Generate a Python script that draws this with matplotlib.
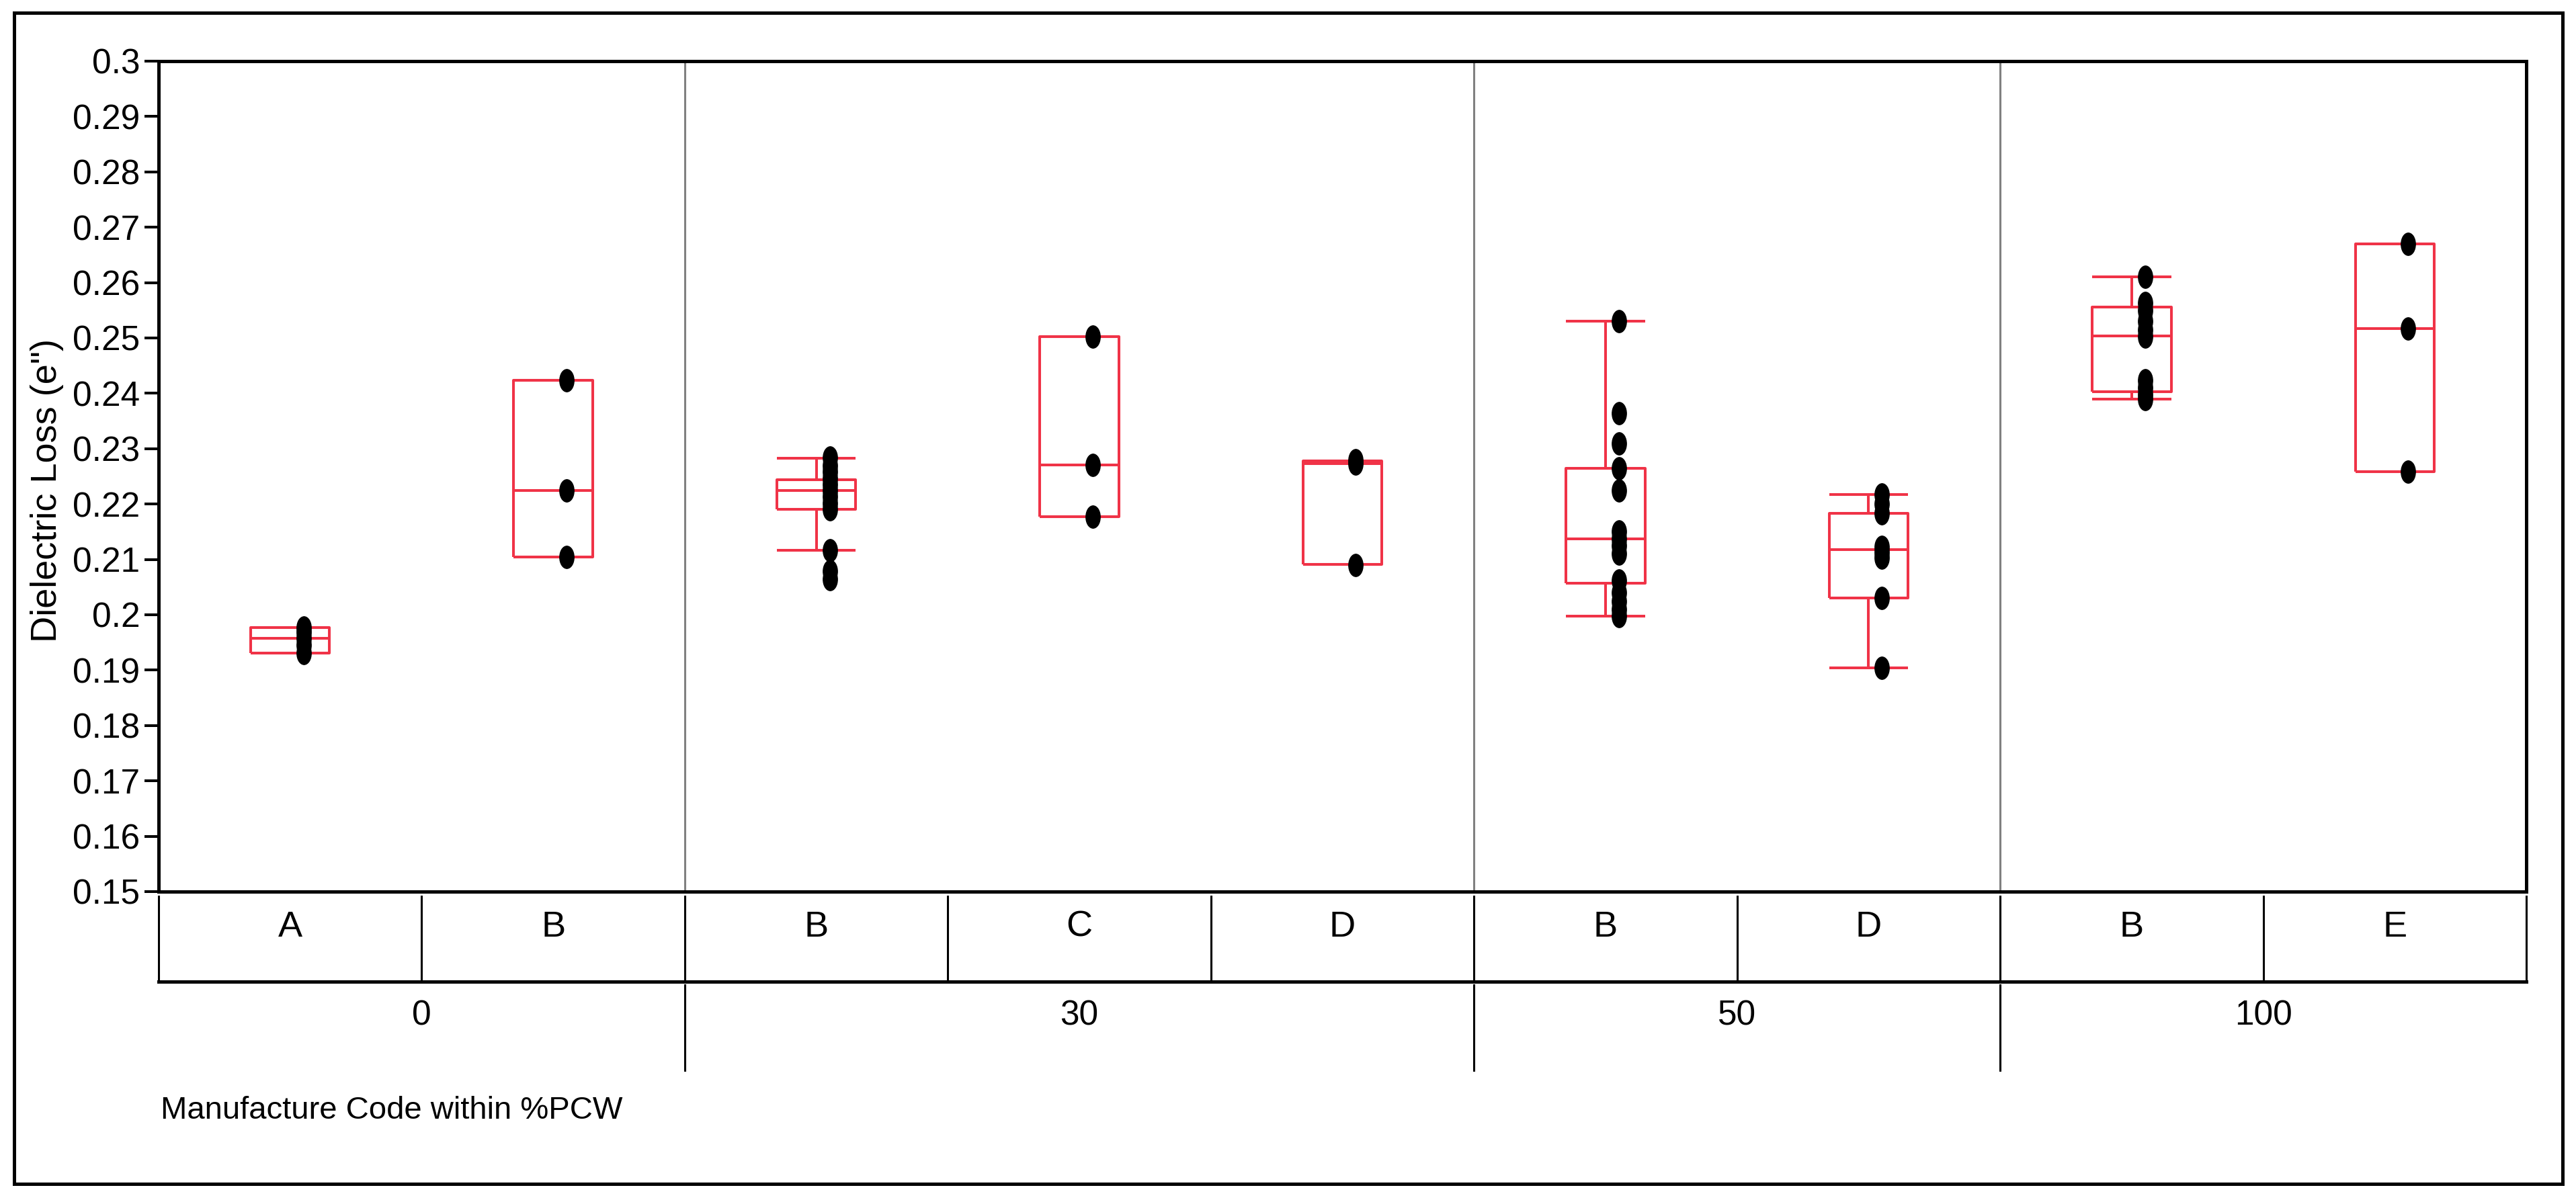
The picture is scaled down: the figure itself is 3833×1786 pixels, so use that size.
"""Box plot of dielectric loss by manufacturer code within %PCW."""

import matplotlib
matplotlib.use("Agg")
import matplotlib.pyplot as plt
from matplotlib import font_manager, transforms
from matplotlib.lines import Line2D
from matplotlib.patches import Rectangle
from matplotlib.path import Path
from matplotlib.markers import MarkerStyle

# fonts: a narrow Arial-like face if there is one
installed = {f.name for f in font_manager.fontManager.ttflist}
NARROW = "Liberation Sans Narrow" if "Liberation Sans Narrow" in installed else "Liberation Sans"
plt.rcParams["font.family"] = [NARROW, "DejaVu Sans"]

# data
codes = ["A", "B", "B", "C", "D", "B", "D", "B", "E"]
groups = ["0", "30", "50", "100"]
group_spans = [(0, 2), (2, 5), (5, 7), (7, 9)]

q1 = [0.1931, 0.2104, 0.2191, 0.2177, 0.2091, 0.2057, 0.2030, 0.2403, 0.2258]
med = [0.1957, 0.2224, 0.2224, 0.2271, 0.2273, 0.2137, 0.2118, 0.2504, 0.2517]
q3 = [0.1977, 0.2424, 0.2244, 0.2503, 0.2278, 0.2264, 0.2183, 0.2556, 0.2670]
whis_lo = [0.1931, 0.2104, 0.2117, 0.2177, 0.2091, 0.1997, 0.1904, 0.2390, 0.2258]
whis_hi = [0.1977, 0.2424, 0.2283, 0.2503, 0.2278, 0.2530, 0.2217, 0.2610, 0.2670]

pts_A0 = [0.1931, 0.1945, 0.1957, 0.1968, 0.1977]
pts_B0 = [0.2104, 0.2224, 0.2424]
pts_B30 = [0.2064, 0.2079, 0.2117, 0.2191, 0.2202, 0.2213, 0.2224, 0.2236, 0.2246,
           0.2258, 0.2270, 0.2284]
pts_C30 = [0.2177, 0.2271, 0.2503]
pts_D30 = [0.2090, 0.2273, 0.2279]
pts_B50 = [0.1997, 0.2010, 0.2024, 0.2040, 0.2062, 0.2110, 0.2125, 0.2137, 0.2150,
           0.2224, 0.2264, 0.2310, 0.2364, 0.2530]
pts_D50 = [0.1904, 0.2030, 0.2103, 0.2113, 0.2123, 0.2183, 0.2200, 0.2217]
pts_B100 = [0.2389, 0.2398, 0.2410, 0.2423, 0.2502, 0.2515, 0.2530, 0.2550, 0.2563, 0.2610]
pts_E100 = [0.2258, 0.2517, 0.2670]
points = [pts_A0, pts_B0, pts_B30, pts_C30, pts_D30, pts_B50, pts_D50, pts_B100, pts_E100]

ytick_labels = ["0.15", "0.16", "0.17", "0.18", "0.19", "0.2", "0.21", "0.22", "0.23",
                "0.24", "0.25", "0.26", "0.27", "0.28", "0.29", "0.3"]

RED = "#F03347"
W, H = 3833, 1786


def fx(px):
    return px / W


def fy(py):
    return 1 - py / H


fig = plt.figure(figsize=(W / 100, H / 100), dpi=100)
ax = fig.add_axes([fx(236), fy(1327), fx(3759 - 236), (1327 - 91) / H])

positions = [i + 0.5 for i in range(len(codes))]
stats = [
    dict(med=m, q1=a, q3=b, whislo=lo, whishi=hi, fliers=[])
    for m, a, b, lo, hi in zip(med, q1, q3, whis_lo, whis_hi)
]
line_kw = dict(color=RED, linewidth=2.9, solid_capstyle="butt")
ax.bxp(stats, positions=positions, widths=0.30, capwidths=0.30, showfliers=False,
       boxprops=line_kw, whiskerprops=line_kw, capprops=line_kw, medianprops=line_kw,
       manage_ticks=False)

# elliptical dots (taller than wide, as in the reference)
ellipse = Path.unit_circle().transformed(transforms.Affine2D().scale(0.64, 1.0))
dot = MarkerStyle(ellipse)
for pos, vals in zip(positions, points):
    ax.plot([pos + 0.051] * len(vals), vals, linestyle="none", marker=dot,
            markersize=24, color="black", zorder=5)

# group separators
for start, end in group_spans[1:]:
    ax.axvline(start, color="#808080", linewidth=2.2, zorder=0)

ax.set_xlim(0, 9)
ax.set_ylim(0.15, 0.30)
ax.set_xticks([])
ax.set_yticks([float(t) for t in ytick_labels])
ax.set_yticklabels(ytick_labels)
ax.tick_params(axis="y", length=15, width=2.9, pad=5, labelsize=37, direction="out")
for sp in ax.spines.values():
    sp.set_linewidth(3.6)

# category / group table under the axes
trans = transforms.blended_transform_factory(ax.transData, fig.transFigure)
fig.add_artist(Line2D([0, 9], [fy(1461), fy(1461)], transform=trans, color="black", lw=3.6))
for b in range(10):
    fig.add_artist(Line2D([b, b], [fy(1334), fy(1461)], transform=trans, color="black", lw=2.2))
for pos, code in zip(positions, codes):
    fig.text(pos, fy(1380), code, transform=trans, ha="center", va="center", fontsize=39)
for (start, end), name in zip(group_spans, groups):
    fig.text((start + end) / 2, fy(1512), name, transform=trans, ha="center", va="center",
             fontsize=37)
for start, end in group_spans[1:]:
    fig.add_artist(Line2D([start, start], [fy(1466), fy(1593)], transform=trans,
                          color="black", lw=2.2))

fig.text(fx(239), fy(1653), "Manufacture Code within %PCW", ha="left", va="center", fontsize=34)
fig.text(fx(70), fy(730), 'Dielectric Loss (e")', rotation=90, ha="center", va="center",
         fontsize=39, family=["Liberation Sans", "DejaVu Sans"])

# outer frame
fig.add_artist(Rectangle((fx(21), fy(1762)), fx(3813 - 21), (1762 - 19) / H,
                         transform=fig.transFigure, fill=False, edgecolor="black", lw=3.6))

fig.savefig("out.png", dpi=100)
